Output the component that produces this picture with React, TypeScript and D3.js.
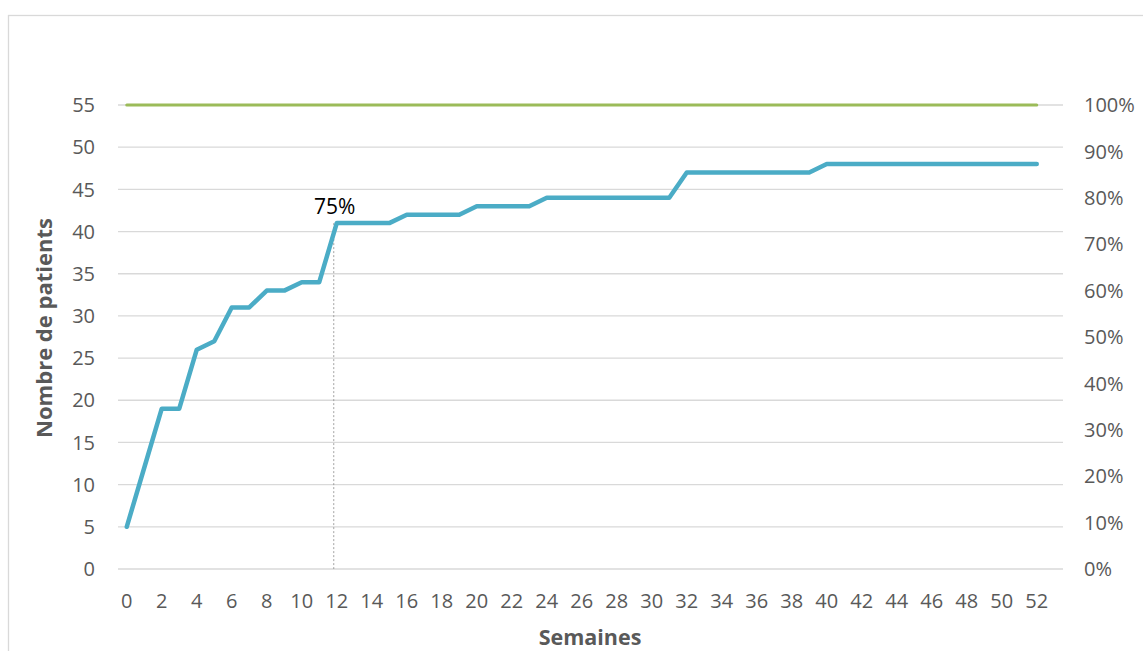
import React from 'react';
import * as d3 from 'd3';

// weeks 0..52
const weeks = d3.range(0, 53);
const patients = [
  5, 12, 19, 19, 26, 27, 31, 31, 33, 33, 34, 34, 41, 41, 41, 41, 42, 42, 42, 42,
  43, 43, 43, 43, 44, 44, 44, 44, 44, 44, 44, 44, 47, 47, 47, 47, 47, 47, 47, 47,
  48, 48, 48, 48, 48, 48, 48, 48, 48, 48, 48, 48, 48,
];
const target = weeks.map(() => 55);
const leftTicks = [0, 5, 10, 15, 20, 25, 30, 35, 40, 45, 50, 55];
const rightTicks = [0, 10, 20, 30, 40, 50, 60, 70, 80, 90, 100];
const xTicks = d3.range(0, 53, 2);
const markerWeek = 12;
const markerLabel = '75%';

const W = 1143;
const H = 651;
const font = '"Open Sans", "Liberation Sans", sans-serif';

export default function App() {
  // 54 category slots (0..53), points centred in each slot
  const x = d3.scaleLinear().domain([-0.5, 53.5]).range([118, 1063]);
  const y = d3.scaleLinear().domain([0, 55]).range([569, 105]);
  const yPct = d3.scaleLinear().domain([0, 100]).range([569, 105]);

  const line = d3
    .line<number>()
    .x((_, i) => x(weeks[i]))
    .y((d) => y(d));

  const markerY = y(patients[markerWeek]);
  const markerX = x(markerWeek) - 3;

  return (
    <svg
      width={W}
      height={H}
      style={{ position: 'absolute', left: 0, top: 0, background: '#fff' }}
      fontFamily={font}
    >
      <rect x={8.5} y={15.5} width={1200} height={700} fill="#fff" stroke="#d9d9d9" strokeWidth={1.3} />

      {/* gridlines */}
      {leftTicks.map((t) => (
        <line key={t} x1={118} x2={1063} y1={y(t)} y2={y(t)} stroke="#d9d9d9" strokeWidth={1.3} />
      ))}

      {/* left axis */}
      {leftTicks.map((t) => (
        <text key={t} x={95} y={y(t)} dy="0.36em" textAnchor="end" fontSize={20} fill="#595959">
          {t}
        </text>
      ))}

      {/* right axis */}
      {rightTicks.map((t) => (
        <text key={t} x={1084} y={yPct(t)} dy="0.36em" textAnchor="start" fontSize={20} fill="#595959">
          {t}%
        </text>
      ))}

      {/* x axis */}
      {xTicks.map((t) => (
        <text key={t} x={x(t)} y={608} textAnchor="middle" fontSize={20} fill="#595959">
          {t}
        </text>
      ))}

      <text
        transform={`translate(52, 328) rotate(-90)`}
        textAnchor="middle"
        fontSize={22}
        fontWeight="bold"
        fill="#595959"
      >
        Nombre de patients
      </text>
      <text x={590} y={645} textAnchor="middle" fontSize={21.5} fontWeight="bold" fill="#595959">
        Semaines
      </text>

      {/* marker */}
      <line
        x1={markerX}
        x2={markerX}
        y1={markerY}
        y2={y(0)}
        stroke="#8c8c8c"
        strokeWidth={0.8}
        strokeDasharray="2,2"
      />

      <path d={line(target) || ''} fill="none" stroke="#9bbb59" strokeWidth={3} strokeLinecap="round" />
      <path
        d={line(patients) || ''}
        fill="none"
        stroke="#4bacc6"
        strokeWidth={4.5}
        strokeLinecap="round"
        strokeLinejoin="round"
      />

      <text x={markerX + 1} y={markerY - 9} textAnchor="middle" fontSize={21} fill="#000">
        {markerLabel}
      </text>
    </svg>
  );
}
